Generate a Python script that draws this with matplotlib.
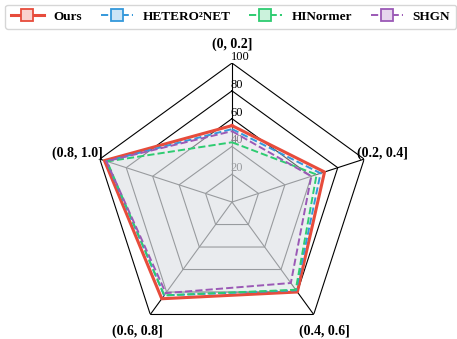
import numpy as np
import matplotlib
matplotlib.use("agg")
import matplotlib.pyplot as plt
from matplotlib.colors import to_rgb

plt.rcParams["font.family"] = ["Liberation Serif", "DejaVu Serif"]

CATEGORIES = ["(0, 0.2]", "(0.2, 0.4]", "(0.4, 0.6]", "(0.6, 0.8]", "(0.8, 1.0]"]
OURS = [55, 70, 80, 86, 96.5]
HETERO2NET = [52.5, 67, 78.5, 83, 95]
HINORMER = [43, 64, 78, 83, 94.5]
SHGN = [51, 60, 72, 81, 95]
RTICKS = [20, 40, 60, 80, 100]

series = [
    ("Ours", OURS, "#e74c3c", "-", 2.2),
    ("HETERO\u00b2NET", HETERO2NET, "#3498db", "--", 1.4),
    ("HINormer", HINORMER, "#2ecc71", "--", 1.4),
    ("SHGN", SHGN, "#9b59b6", "--", 1.4),
]


def pastel(c, k=0.22):
    r = np.array(to_rgb(c))
    return tuple(1 - k * (1 - r))


n = len(CATEGORIES)
theta = np.linspace(0, 2 * np.pi, n, endpoint=False)
tclosed = np.append(theta, theta[0])

fig = plt.figure(figsize=(4.57, 3.39), dpi=100)
ax = fig.add_axes([0.2035, -0.006, 0.6083, 0.820], projection="polar")
ax.set_theta_offset(np.pi / 2)
ax.set_theta_direction(-1)
ax.set_ylim(0, 100)
ax.grid(False)
ax.set_xticks([])
ax.set_yticks([])
ax.spines["polar"].set_visible(False)
ax.patch.set_visible(False)

# pentagon grid + spokes
for lv in RTICKS:
    ax.plot(tclosed, [lv] * (n + 1), color="black", lw=0.8, zorder=1)
for t in theta:
    ax.plot([t, t], [0, 100], color="black", lw=0.8, zorder=1)

for lv in RTICKS:
    ax.annotate(str(lv), (0, lv), xytext=(-1, 0), textcoords="offset points",
                fontsize=9, ha="left", va="bottom", color="black", zorder=1)

# label offsets (points) from the outer vertex
label_off = [(0, 13.5), (13.5, 4.5), (8, -12), (-9, -12), (-16.5, 4.5)]
for t, lab, off in zip(theta, CATEGORIES, label_off):
    ax.annotate(lab, (t, 100), xytext=off, textcoords="offset points",
                fontsize=10, fontweight="bold", ha="center", va="center")

for name, vals, col, ls, lw in series:
    v = np.append(vals, vals[0])
    ax.fill(tclosed, v, color=pastel(col, 0.22), alpha=0.25, lw=0, zorder=2)

handles = []
for name, vals, col, ls, lw in series:
    v = np.append(vals, vals[0])
    ax.plot(tclosed, v, color=col, ls=ls, lw=lw, zorder=3)
    h, = plt.plot([], [], color=col, ls=ls, lw=lw, marker="s", markersize=9,
                  markerfacecolor=pastel(col, 0.25), markeredgecolor=col,
                  markeredgewidth=1.3)
    handles.append(h)

fig.legend(handles, [s[0] for s in series], loc="center",
           bbox_to_anchor=(0.505, 0.951), ncol=4,
           prop={"weight": "bold", "size": 9.5}, handlelength=2.45,
           handletextpad=0.75, columnspacing=1.4, borderpad=0.45,
           borderaxespad=0.3, frameon=True, edgecolor="0.8")

fig.savefig("out.png", dpi=100)
